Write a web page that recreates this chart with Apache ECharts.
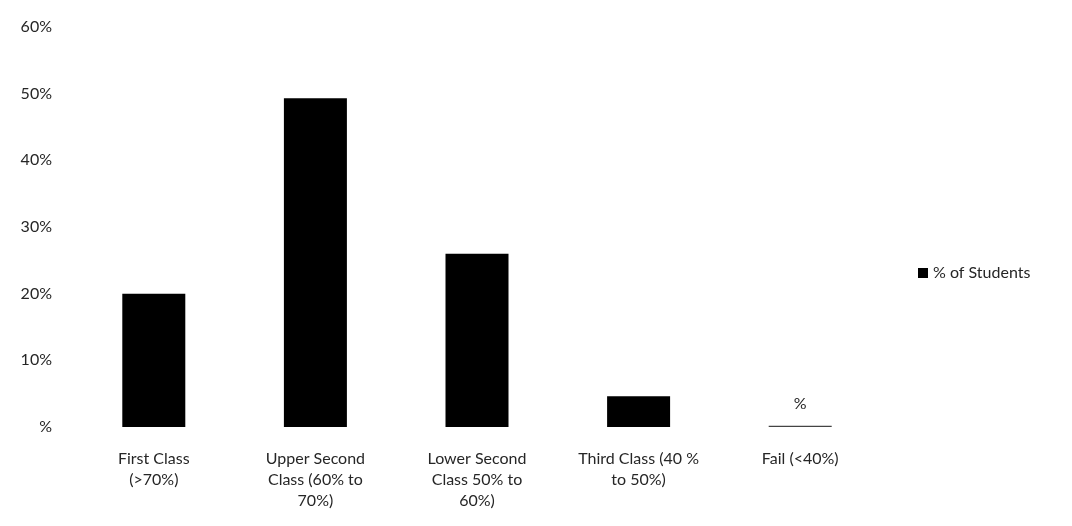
<!DOCTYPE html>
<html>
<head>
<meta charset="utf-8">
<script src="https://cdn.jsdelivr.net/npm/echarts@6/dist/echarts.min.js"></script>
<style>
  html, body { margin: 0; padding: 0; background: #fff; }
  #main { width: 1072px; height: 526px; }
</style>
</head>
<body>
<div id="main"></div>
<script>
// categories and values
var categories = [
    'First Class\n(>70%)',
    'Upper Second\nClass (60% to\n70%)',
    'Lower Second\nClass 50% to\n60%)',
    'Third Class (40 %\nto 50%)',
    'Fail (<40%)'
];
var students = [20, 49.3, 26, 4.6, 0.2];
var yTicks = [0, 10, 20, 30, 40, 50, 60];

var myChart = echarts.init(document.getElementById('main'));
var font = "Lato, 'Open Sans', sans-serif";

var option = {
    animation: false,
    textStyle: { fontFamily: font },
    grid: { left: 73, right: 191, top: 27, bottom: 99, containLabel: false },
    legend: {
        data: ['% of Students'],
        left: 913,
        top: 260,
        itemWidth: 10,
        itemHeight: 10,
        icon: 'rect',
        textStyle: { fontFamily: font, fontSize: 16, color: '#262626' }
    },
    xAxis: {
        type: 'category',
        data: categories,
        axisLine: { show: false },
        axisTick: { show: false },
        axisLabel: {
            interval: 0,
            margin: 21,
            fontSize: 16,
            lineHeight: 21,
            color: '#262626',
            fontFamily: font
        }
    },
    yAxis: {
        type: 'value',
        min: yTicks[0],
        max: yTicks[yTicks.length - 1],
        interval: 10,
        splitLine: { show: false },
        axisLine: { show: false },
        axisTick: { show: false },
        axisLabel: {
            margin: 21,
            fontSize: 16,
            color: '#262626',
            fontFamily: font,
            formatter: function(v) {
                return v === 0 ? '%' : v + '%';
            }
        }
    },
    series: [{
        name: '% of Students',
        type: 'bar',
        data: students.map(function(v, i) {
            if (i === students.length - 1) {
                return {
                    value: v,
                    label: { show: true, position: 'top', distance: 14, formatter: '%', fontSize: 16, color: '#262626' },
                    itemStyle: { color: '#444' }
                };
            }
            return v;
        }),
        barWidth: 63,
        itemStyle: { color: '#000' }
    }]
};
myChart.setOption(option);
</script>
</body>
</html>
